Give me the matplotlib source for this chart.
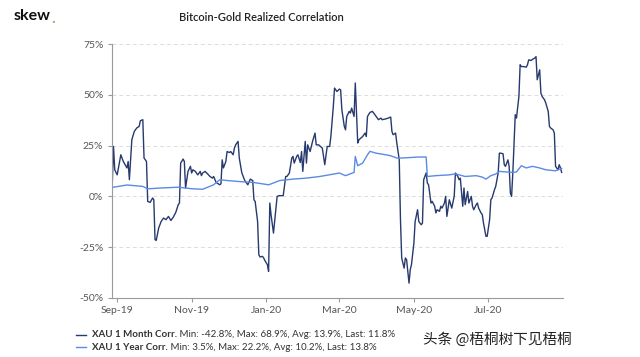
import numpy as np
import matplotlib
matplotlib.use("Agg")
import matplotlib.pyplot as plt
import matplotlib.dates as mdates
from matplotlib.lines import Line2D

plt.rcParams['font.family'] = ['Lato', 'DejaVu Sans']

# XAU 1 month realized correlation (%)
month_dates = [
    "2019-08-28", "2019-08-29", "2019-08-30", "2019-09-01", "2019-09-04", "2019-09-06",
    "2019-09-09", "2019-09-10", "2019-09-11", "2019-09-13", "2019-09-15", "2019-09-17",
    "2019-09-19", "2019-09-20", "2019-09-22", "2019-09-23", "2019-09-25", "2019-09-26",
    "2019-09-28", "2019-09-30", "2019-10-01", "2019-10-02", "2019-10-03", "2019-10-05",
    "2019-10-07", "2019-10-09", "2019-10-11", "2019-10-13", "2019-10-15", "2019-10-17",
    "2019-10-19", "2019-10-21", "2019-10-22", "2019-10-23", "2019-10-25", "2019-10-26",
    "2019-10-27", "2019-10-29", "2019-10-31", "2019-11-01", "2019-11-02", "2019-11-04",
    "2019-11-06", "2019-11-08", "2019-11-09", "2019-11-10", "2019-11-12", "2019-11-14",
    "2019-11-16", "2019-11-18", "2019-11-19", "2019-11-21", "2019-11-24", "2019-11-25",
    "2019-11-26", "2019-11-27", "2019-11-29", "2019-11-30", "2019-12-02", "2019-12-03",
    "2019-12-05", "2019-12-06", "2019-12-07", "2019-12-09", "2019-12-10", "2019-12-12",
    "2019-12-14", "2019-12-15", "2019-12-17", "2019-12-19", "2019-12-21", "2019-12-22",
    "2019-12-23", "2019-12-25", "2019-12-26", "2019-12-27", "2019-12-29", "2019-12-30",
    "2019-12-31", "2020-01-02", "2020-01-03", "2020-01-04", "2020-01-05", "2020-01-07",
    "2020-01-09", "2020-01-10", "2020-01-12", "2020-01-13", "2020-01-15", "2020-01-17",
    "2020-01-18", "2020-01-20", "2020-01-22", "2020-01-23", "2020-01-24", "2020-01-26",
    "2020-01-27", "2020-01-29", "2020-01-30", "2020-01-31", "2020-02-02", "2020-02-03",
    "2020-02-04", "2020-02-06", "2020-02-08", "2020-02-10", "2020-02-11", "2020-02-13",
    "2020-02-16", "2020-02-18", "2020-02-20", "2020-02-22", "2020-02-23", "2020-02-25",
    "2020-02-26", "2020-02-28", "2020-03-01", "2020-03-02", "2020-03-03", "2020-03-05",
    "2020-03-06", "2020-03-07", "2020-03-09", "2020-03-10", "2020-03-11", "2020-03-13",
    "2020-03-14", "2020-03-16", "2020-03-17", "2020-03-20", "2020-03-22", "2020-03-23",
    "2020-03-24", "2020-03-26", "2020-03-28", "2020-03-30", "2020-04-01", "2020-04-02",
    "2020-04-04", "2020-04-05", "2020-04-08", "2020-04-10", "2020-04-12", "2020-04-13",
    "2020-04-14", "2020-04-16", "2020-04-17", "2020-04-19", "2020-04-20", "2020-04-21",
    "2020-04-23", "2020-04-24", "2020-04-25", "2020-04-27", "2020-04-28", "2020-04-29",
    "2020-05-01", "2020-05-02", "2020-05-04", "2020-05-05", "2020-05-07", "2020-05-08",
    "2020-05-09", "2020-05-11", "2020-05-12", "2020-05-13", "2020-05-15", "2020-05-16",
    "2020-05-18", "2020-05-19", "2020-05-20", "2020-05-22", "2020-05-23", "2020-05-24",
    "2020-05-26", "2020-05-27", "2020-05-28", "2020-05-30", "2020-06-01", "2020-06-03",
    "2020-06-04", "2020-06-06", "2020-06-07", "2020-06-08", "2020-06-10", "2020-06-11",
    "2020-06-12", "2020-06-14", "2020-06-15", "2020-06-17", "2020-06-18", "2020-06-19",
    "2020-06-21", "2020-06-22", "2020-06-23", "2020-06-25", "2020-06-26", "2020-06-27",
    "2020-06-29", "2020-06-30", "2020-07-02", "2020-07-03", "2020-07-04", "2020-07-06",
    "2020-07-07", "2020-07-09", "2020-07-10", "2020-07-11", "2020-07-13", "2020-07-14",
    "2020-07-15", "2020-07-17", "2020-07-18", "2020-07-19", "2020-07-20", "2020-07-21",
    "2020-07-23", "2020-07-24", "2020-07-26", "2020-07-27", "2020-07-28", "2020-07-30",
    "2020-08-01", "2020-08-02", "2020-08-03", "2020-08-05", "2020-08-06", "2020-08-08",
    "2020-08-09", "2020-08-10", "2020-08-12", "2020-08-13", "2020-08-14", "2020-08-16",
    "2020-08-17", "2020-08-19", "2020-08-20", "2020-08-21", "2020-08-23", "2020-08-24",
    "2020-08-25", "2020-08-27", "2020-08-28", "2020-08-29", "2020-08-30",
]
month_vals = [
    6.6, 24.6, 13.1, 10.6, 20.5, 17.2,
    14.0, 17.2, 8.2, 27.9, 32.0, 33.7,
    34.5, 37.3, 37.8, 18.9, 17.2, -2.5,
    -3.0, -0.8, -1.7, -21.4, -21.7, -15.6,
    -12.4, -10.7, -11.5, -9.9, -11.9, -10.2,
    -7.9, -4.1, -3.3, 16.4, 18.4, 17.2,
    4.1, 12.3, 14.8, 11.5, 13.1, 12.3,
    10.6, 12.3, 10.2, 11.5, 12.3, 11.1,
    9.8, 9.0, 9.8, 6.9, 5.7, 6.2,
    18.0, 14.0, 17.2, 22.1, 21.6, 22.1,
    20.5, 23.8, 25.4, 27.1, 18.9, 11.8,
    8.5, 7.3, 5.7, 8.5, 7.8, -1.7,
    -2.5, -12.4, -28.8, -29.9, -29.6, -30.4,
    -31.7, -33.7, -37.0, -3.3, -9.0, -18.1,
    -5.8, 0.0, 0.4, 0.3, 0.4, 9.8,
    9.8, 11.5, 18.9, 19.7, 16.4, 19.7,
    20.5, 16.7, 22.1, 12.3, 27.1, 16.4,
    25.4, 22.1, 27.1, 31.2, 25.4, 25.4,
    23.8, 15.6, 24.6, 24.6, 29.5, 44.3,
    53.4, 51.7, 52.9, 52.5, 42.7, 34.5,
    32.8, 39.4, 41.9, 41.1, 43.5, 39.4,
    55.9, 26.3, 27.9, 29.5, 31.2, 29.5,
    39.4, 41.4, 41.9, 40.3, 38.6, 37.8,
    38.6, 37.8, 38.2, 38.6, 39.1, 32.0,
    30.4, 31.2, 26.3, 18.0, -11.5, -30.4,
    -35.4, -30.4, -31.2, -42.8, -36.2, -33.7,
    -23.0, -12.4, -6.6, -12.4, -14.0, -13.2,
    8.2, 11.5, 6.6, 5.7, -3.3, -2.5,
    -4.9, -8.2, -6.6, -7.4, -4.9, -5.8,
    -3.3, 0.0, -9.9, -1.7, -5.8, 0.0,
    11.5, 9.8, 8.2, 9.0, -4.9, 4.1,
    -4.1, 2.4, -3.3, 0.0, -4.9, -6.6,
    -4.1, -3.3, -5.8, -8.2, -9.0, -13.2,
    -19.7, -19.7, -11.5, -1.7, -0.8, 3.3,
    4.9, 11.5, 21.3, 21.3, 21.0, 15.6,
    14.8, 18.0, 14.8, 1.6, 0.0, 11.5,
    40.3, 38.6, 49.3, 64.9, 64.0, 64.0,
    63.7, 64.9, 67.3, 67.0, 67.5, 68.2,
    68.9, 57.5, 62.4, 50.9, 49.3, 47.6,
    46.0, 41.9, 34.5, 33.7, 32.8, 31.2,
    14.8, 13.1, 15.6, 14.0, 11.8,
]

# XAU 1 year realized correlation (%)
year_dates = [
    "2019-08-28", "2019-09-09", "2019-09-22", "2019-09-26", "2019-10-06", "2019-10-21",
    "2019-11-02", "2019-11-10", "2019-11-19", "2019-11-24", "2019-11-30", "2019-12-10",
    "2019-12-21", "2020-01-03", "2020-01-07", "2020-01-12", "2020-01-23", "2020-02-03",
    "2020-02-14", "2020-03-01", "2020-03-06", "2020-03-13", "2020-03-14", "2020-03-16",
    "2020-03-20", "2020-03-24", "2020-03-26", "2020-03-31", "2020-04-08", "2020-04-12",
    "2020-04-17", "2020-04-21", "2020-05-05", "2020-05-11", "2020-05-12", "2020-05-19",
    "2020-05-30", "2020-06-04", "2020-06-12", "2020-06-21", "2020-06-26", "2020-06-29",
    "2020-07-03", "2020-07-07", "2020-07-10", "2020-07-21", "2020-07-24", "2020-07-28",
    "2020-08-01", "2020-08-06", "2020-08-12", "2020-08-17", "2020-08-25", "2020-08-30",
]
year_vals = [
    4.4, 5.6, 4.9, 3.7, 4.1, 4.5,
    3.7, 3.5, 5.7, 8.2, 7.8, 7.3,
    6.9, 5.7, 6.6, 7.8, 8.5, 9.0,
    9.8, 11.5, 10.2, 11.8, 19.7, 15.1,
    16.4, 20.5, 22.2, 21.3, 20.5, 20.0,
    18.9, 18.9, 19.4, 19.4, 9.8, 10.2,
    10.6, 11.1, 9.8, 10.2, 9.5, 8.5,
    10.2, 11.0, 12.3, 11.8, 12.0, 15.1,
    14.0, 14.8, 14.0, 13.1, 12.6, 13.8,
]

y_ticks = [-50, -25, 0, 25, 50, 75]
legend_names = ["XAU 1 Month Corr.", "XAU 1 Year Corr."]
legend_stats = [" Min: -42.8%, Max: 68.9%, Avg: 13.9%, Last: 11.8%",
                " Min: 3.5%, Max: 22.2%, Avg: 10.2%, Last: 13.8%"]
month_color = "#273a6e"
year_color = "#5b8ae6"

fig = plt.figure(figsize=(6.4, 3.57), dpi=100)
ax = fig.add_axes([0.1745, 0.166, 0.705, 0.71])

md = np.array(month_dates, dtype="datetime64[D]")
yd = np.array(year_dates, dtype="datetime64[D]")
ax.plot(md, month_vals, color=month_color, lw=1.0)
ax.plot(yd, year_vals, color=year_color, lw=1.0)

ax.set_ylim(-50, 75)
ax.set_yticks(y_ticks)
ax.set_yticklabels([f"{t}%" for t in y_ticks])
ax.set_xlim(np.datetime64("2019-08-27T12:00"), np.datetime64("2020-08-31"))
ax.xaxis.set_major_locator(mdates.MonthLocator(bymonth=[1, 3, 5, 7, 9, 11]))
ax.xaxis.set_major_formatter(mdates.DateFormatter("%b-%y"))

ax.grid(axis="y", color="#dcdcdc", linestyle=(0, (4, 3)), lw=0.7)
ax.set_axisbelow(True)
for s in ["top", "right"]:
    ax.spines[s].set_visible(False)
for s in ["left", "bottom"]:
    ax.spines[s].set_color("#9a9a9a")
    ax.spines[s].set_linewidth(0.8)
ax.tick_params(axis="both", colors="#9a9a9a", length=3, width=0.8, labelsize=7.5,
               labelcolor="#555555", pad=3)

# header
fig.text(0.021, 0.955, "skew", fontsize=11.5, fontweight="bold", color="#111111",
         va="center", ha="left")
fig.text(0.08, 0.948, ".", fontsize=11.5, fontweight="bold", color="#b8a86a",
         va="center", ha="left")
fig.text(0.408, 0.952, "Bitcoin-Gold Realized Correlation", fontsize=8,
         fontweight="semibold", color="#222222", va="center", ha="center")

# legend
for i, (name, stats, c) in enumerate(zip(legend_names, legend_stats,
                                          [month_color, year_color])):
    y = 0.063 - i * 0.035
    fig.add_artist(Line2D([0.118, 0.134], [y, y], color=c, lw=1.0,
                          transform=fig.transFigure))
    t = fig.text(0.144, y, name, fontsize=7, fontweight="bold", color="#333333",
                 va="center", ha="left")
    ax.annotate(stats, xy=(1, 0.5), xycoords=t, va="center", ha="left",
                fontsize=7, color="#333333", annotation_clip=False)

# watermark
fig.text(0.661, 0.05, "头条 @梧桐树下见梧桐", fontsize=10.5, color="#222222",
         family=["Noto Sans CJK SC", "DejaVu Sans"], va="center", ha="left")

fig.savefig("out.png", dpi=100)
